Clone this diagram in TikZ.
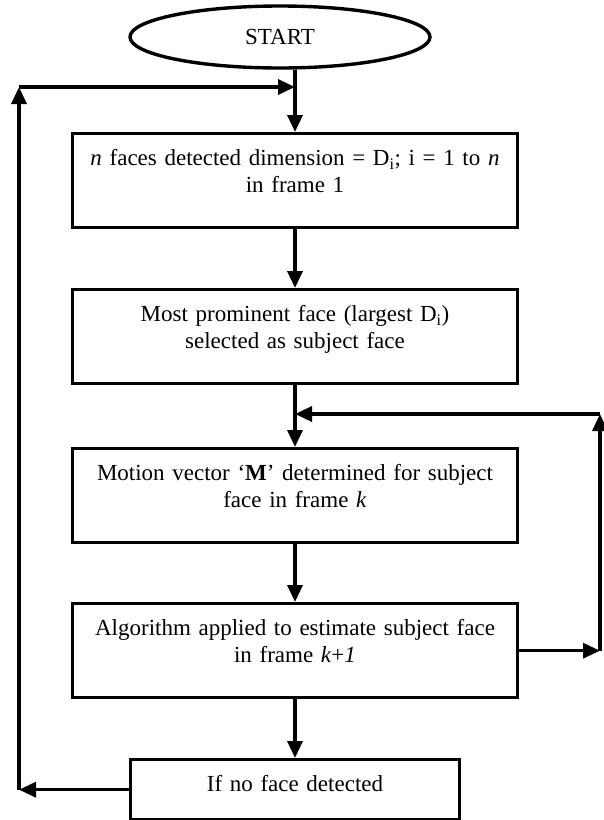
\documentclass[tikz,border=0pt]{standalone}
\usepackage{fontspec}
\setmainfont{Liberation Serif}
\usetikzlibrary{arrows.meta,shapes.geometric}

\begin{document}
\begin{tikzpicture}[x=1pt, y=-1pt, line width=3.4pt, >={Triangle[length=17pt,width=15pt]},
	every node/.style={font=\fontsize{23}{27}\selectfont},
	box/.style={draw, rectangle, align=center, text width=#1, inner xsep=0pt, inner ysep=0pt, text height=32pt, text depth=62pt}]
	\useasboundingbox (0,0) rectangle (603,820);
	\node[draw, ellipse, minimum width=300pt, minimum height=62pt, inner sep=0pt] (start) at (280,37) {START};
	\node[box=445pt, anchor=north] (detect) at (295,132) {\textit{n} faces detected dimension = D\textsubscript{i}; i = 1 to \textit{n}\\in frame 1};
	\node[box=445pt, anchor=north] (select) at (295,288) {Most prominent face (largest D\textsubscript{i})\\selected as subject face};
	\node[box=445pt, anchor=north] (motion) at (295,447) {Motion vector ‘\textbf{M}’ determined for subject\\face in frame \textit{k}};
	\node[box=445pt, anchor=north] (estimate) at (295,602) {Algorithm applied to estimate subject face\\in frame \textit{k}+\textit{1}};
	\node[box=329pt, anchor=north, text depth=28pt] (noface) at (295,758) {If no face detected};
	\coordinate (rup) at (600,414);
	\coordinate (rjoin) at (295,414);
	\coordinate (rdown) at (estimate.east -| rup);
	\coordinate (lup) at (19,87);
	\coordinate (ljoin) at (295,87);
	\coordinate (ldown) at (noface.west -| lup);
	\draw[->] (start.south -| detect.north) -- (detect.north);
	\draw[->] (detect) -- (select);
	\draw[->] (select) -- (motion);
	\draw[->] (motion) -- (estimate);
	\draw[->] (estimate) -- (noface);
	\draw[->] (estimate.east) -- (rdown);
	\draw[->] (rdown) -- (rup);
	\draw[->] (rup) -- (rjoin);
	\draw[->] (noface.west) -- (ldown);
	\draw[->] (ldown) -- (lup);
	\draw[->] (lup) -- (ljoin);
\end{tikzpicture}
\end{document}
